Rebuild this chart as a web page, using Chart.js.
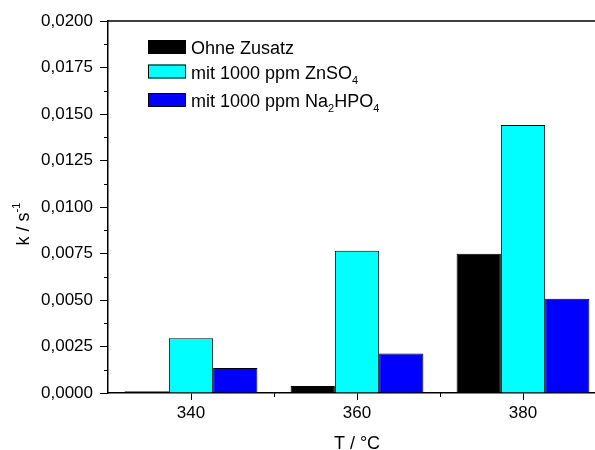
<!DOCTYPE html>
<html>
<head>
<meta charset="utf-8">
<script src="https://cdn.jsdelivr.net/npm/chart.js@4/dist/chart.umd.min.js"></script>
<style>
  html, body { margin: 0; padding: 0; background: #fff; overflow: hidden; }
  #wrap { position: relative; width: 620px; height: 450px; }
</style>
</head>
<body>
<div id="wrap"><canvas id="c"></canvas></div>
<script>
// ---- data ----
const categories = ['340', '360', '380'];
const ohneZusatz = [0.0001, 0.00038, 0.00749];
const mitZnSO4 = [0.00294, 0.00765, 0.01441];
const mitNa2HPO4 = [0.00134, 0.00213, 0.00507];
const yMin = 0;
const yMax = 0.02;
const yStep = 0.0025;
// legend labels as [text, kind] segments (kind: '' normal, 'sub' subscript)
const legendLabels = [
  [['Ohne Zusatz', '']],
  [['mit 1000 ppm ZnSO', ''], ['4', 'sub']],
  [['mit 1000 ppm Na', ''], ['2', 'sub'], ['HPO', ''], ['4', 'sub']]
];
const xTitle = 'T / °C';
const yTitle = [['k / s', ''], ['-1', 'sup']];

const FONT = 'Arial, "Liberation Sans", sans-serif';

function drawRich(ctx, segs, x, y, size) {
  let cx = x;
  for (const [t, kind] of segs) {
    if (kind === 'sub') {
      ctx.font = Math.round(size * 0.6) + 'px ' + FONT;
      ctx.fillText(t, cx, y + size * 0.3);
    } else if (kind === 'sup') {
      ctx.font = Math.round(size * 0.6) + 'px ' + FONT;
      ctx.fillText(t, cx, y - size * 0.5);
    } else {
      ctx.font = size + 'px ' + FONT;
      ctx.fillText(t, cx, y);
    }
    cx += ctx.measureText(t).width;
  }
  return cx - x;
}
function richWidth(ctx, segs, size) {
  let w = 0;
  for (const [t, kind] of segs) {
    ctx.font = (kind ? Math.round(size * 0.6) : size) + 'px ' + FONT;
    w += ctx.measureText(t).width;
  }
  return w;
}

const decor = {
  id: 'decor',
  afterDraw(chart) {
    const ctx = chart.ctx;
    const a = chart.chartArea;
    const xs = chart.scales.x, ys = chart.scales.y;
    ctx.save();
    ctx.strokeStyle = '#000';
    ctx.fillStyle = '#000';
    ctx.lineWidth = 1.5;
    // frame top
    ctx.beginPath();
    ctx.moveTo(a.left, a.top); ctx.lineTo(a.right, a.top);
    ctx.stroke();
    // minor y ticks
    ctx.lineWidth = 1;
    ctx.beginPath();
    for (let v = yMin + yStep / 2; v < yMax; v += yStep) {
      const py = Math.round(ys.getPixelForValue(v)) + 0.5;
      ctx.moveTo(a.left - 4, py); ctx.lineTo(a.left, py);
    }
    // minor x ticks between categories
    for (let i = 0; i < categories.length - 1; i++) {
      const px = Math.round((xs.getPixelForValue(i) + xs.getPixelForValue(i + 1)) / 2) + 0.5;
      ctx.moveTo(px, a.bottom); ctx.lineTo(px, a.bottom + 4);
    }
    ctx.stroke();
    // legend
    const ds = chart.data.datasets;
    const boxTops = [40, 64.5, 93];
    ctx.textAlign = 'left';
    ctx.textBaseline = 'alphabetic';
    ds.forEach((d, i) => {
      const bx = 148, by = boxTops[i], bw = 38, bh = 14;
      ctx.fillStyle = d.backgroundColor;
      ctx.fillRect(bx, by, bw, bh);
      ctx.strokeStyle = '#000';
      ctx.lineWidth = 1;
      ctx.strokeRect(bx + 0.5, by + 0.5, bw - 1, bh - 1);
      ctx.fillStyle = '#000';
      drawRich(ctx, legendLabels[i], 191, by + 14, 18);
    });
    // x title
    ctx.font = '18px ' + FONT;
    ctx.textAlign = 'center';
    ctx.fillText(xTitle, (a.left + a.right) / 2, 449);
    // y title
    ctx.save();
    ctx.translate(29, 224);
    ctx.rotate(-Math.PI / 2);
    ctx.textAlign = 'left';
    const w = richWidth(ctx, yTitle, 18);
    drawRich(ctx, yTitle, -w / 2, 0, 18);
    ctx.restore();
    ctx.restore();
  }
};

new Chart(document.getElementById('c'), {
  type: 'bar',
  data: {
    labels: categories,
    datasets: [
      { label: 'Ohne Zusatz', data: ohneZusatz, backgroundColor: '#000000' },
      { label: 'mit 1000 ppm ZnSO4', data: mitZnSO4, backgroundColor: '#00FFFF' },
      { label: 'mit 1000 ppm Na2HPO4', data: mitNa2HPO4, backgroundColor: '#0000FF' }
    ]
  },
  options: {
    responsive: true,
    maintainAspectRatio: false,
    animation: false,
    datasets: {
      bar: { barPercentage: 1.0, categoryPercentage: 0.8, borderWidth: 1, borderColor: '#000' }
    },
    layout: { padding: { top: 21, right: 14, left: 0, bottom: 0 } },
    plugins: { legend: { display: false }, tooltip: { enabled: false } },
    scales: {
      x: {
        offset: true,
        grid: { drawOnChartArea: false, drawTicks: true, tickLength: 7, offset: false, color: '#000', lineWidth: 1 },
        border: { display: true, color: '#000', width: 1.5 },
        ticks: { color: '#000', font: { family: FONT, size: 17 }, padding: 3, maxRotation: 0 },
        afterFit(s) { s.height = 57; }
      },
      y: {
        min: yMin, max: yMax,
        grid: { drawOnChartArea: false, drawTicks: true, tickLength: 8, color: '#000', lineWidth: 1 },
        border: { display: true, color: '#000', width: 1.5 },
        ticks: {
          stepSize: yStep, color: '#000', font: { family: FONT, size: 17 }, padding: 7,
          callback: v => Number(v).toFixed(4).replace('.', ',')
        },
        afterFit(s) { s.width = 108; }
      }
    }
  },
  plugins: [decor]
});
</script>
</body>
</html>
